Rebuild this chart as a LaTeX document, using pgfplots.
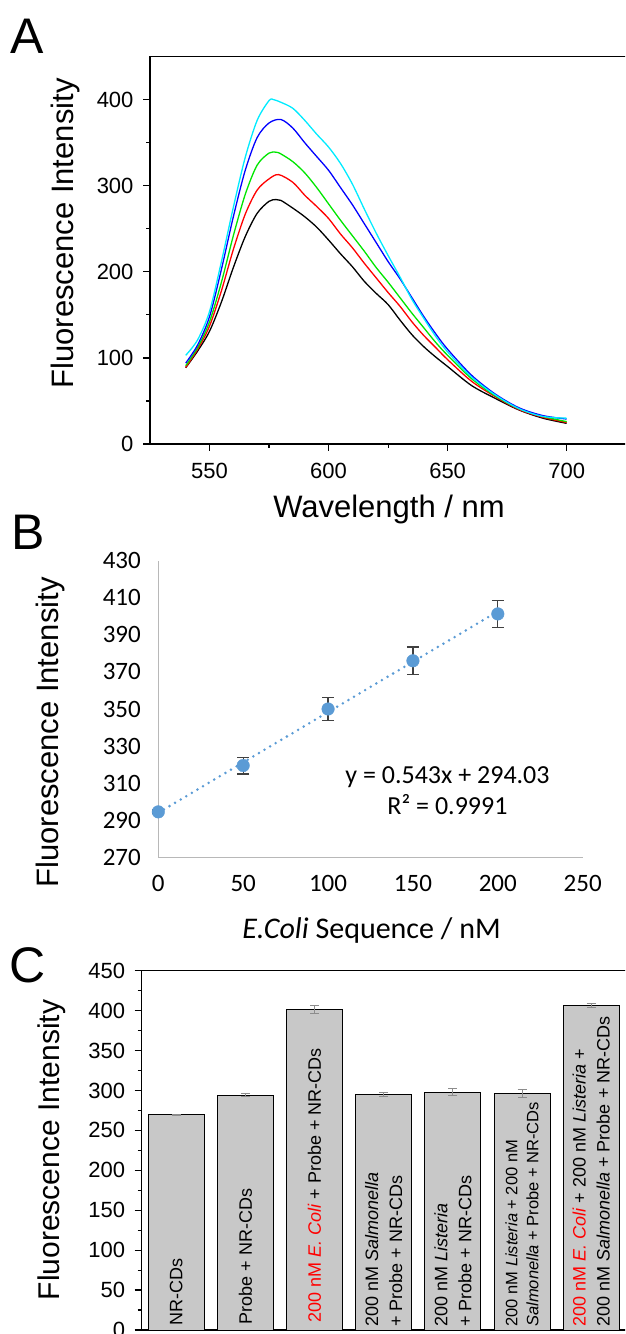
\documentclass[border=0pt]{standalone}
\usepackage{fontspec}
\setmainfont{Liberation Sans}
\newfontfamily\calibri{Carlito}
\usepackage{pgfplots}
\pgfplotsset{compat=1.18}

\definecolor{exblue}{RGB}{91,155,213}
\definecolor{barfill}{RGB}{200,200,200}
\definecolor{ogreen}{RGB}{0,230,0}
\definecolor{ocyan}{RGB}{0,235,255}

\begin{document}
\begin{tikzpicture}[x=1pt,y=1pt]
\useasboundingbox (0,0) rectangle (625,1334);
\clip (0,0) rectangle (625,1334);

% ---------------- A: spectra
\begin{axis}[
  at={(150pt,890pt)}, anchor=south west, scale only axis,
  width=559.3pt, height=387.3pt,
  xmin=525, xmax=760, ymin=0, ymax=450,
  xtick={550,600,650,700}, minor xtick={575,625,675},
  ytick={0,100,200,300,400}, minor ytick={50,150,250,350},
  tick pos=left, tick align=outside,
  major tick length=7pt, minor tick length=4pt,
  tick style={black, line width=1.2pt},
  axis line style={line width=1.3pt},
  ticklabel style={font=\fontsize{22}{26}\selectfont},
  /pgf/number format/assume math mode=true,
  yticklabel style={xshift=-6pt}, xticklabel style={yshift=-9pt},
]
\addplot[black, line width=1.3pt, smooth] coordinates {
 (540,88.6) (545,108) (550,131) (555,165) (560,205) (565,241) (570,268) (575,282)
 (578,284) (580,283) (585,274) (590,264) (595,252) (600,237) (605,221) (610,206)
 (615,189) (620,175) (625,162) (630,144) (635,127) (640,113) (645,101) (650,90)
 (660,68) (670,53) (680,39.5) (690,30) (700,24)
};
\addplot[red, line width=1.3pt, smooth] coordinates {
 (540,89) (545,110) (550,137) (555,178) (560,226) (565,267) (570,295) (575,308)
 (579,313) (585,304) (590,289) (595,276) (600,262) (605,244) (610,228)
 (615,210) (620,193) (625,176) (630,160) (635,142) (640,126) (645,112) (650,98)
 (660,73) (670,55) (680,40) (690,31) (700,25)
};
\addplot[ogreen, line width=1.3pt, smooth] coordinates {
 (540,91) (545,112) (550,142) (555,188) (560,242) (565,290) (570,324) (575,338)
 (578,339) (580,337) (585,328) (590,315) (595,298) (600,279) (605,260) (610,242)
 (615,224) (620,205) (625,188) (630,170) (635,152) (640,135) (645,118) (650,103)
 (660,76) (670,56) (680,41) (690,32) (700,26)
};
\addplot[blue, line width=1.3pt, smooth] coordinates {
 (540,94) (545,115) (550,148) (555,203) (560,264) (565,318) (570,356) (575,373)
 (580,377) (585,367) (590,350) (595,334) (600,318) (605,298) (610,278)
 (615,256) (620,234) (625,212) (630,192) (635,170) (640,148) (645,128) (650,110)
 (660,80) (670,58) (680,42) (690,33) (700,29)
};
\addplot[ocyan, line width=1.3pt, smooth] coordinates {
 (540,103) (545,121) (550,154) (555,212) (560,275) (565,333) (570,376) (575,399)
 (577,400) (580,397) (585,390) (590,376) (595,360) (600,345) (605,326) (610,302)
 (615,273) (620,245) (625,219) (630,194) (635,168) (640,146) (645,125) (650,107)
 (660,78) (670,57) (680,41) (690,32) (700,30)
};
\end{axis}
\node[font=\fontsize{50}{60}\selectfont] at (27,1298) {A};
\node[rotate=90, anchor=base, font=\fontsize{31}{37}\selectfont] at (73.5,1100.5) {Fluorescence Intensity};
\node[anchor=base, font=\fontsize{31}{37}\selectfont] at (389,816) {Wavelength / nm};

% ---------------- B: calibration
\begin{axis}[
  at={(158.3pt,476.7pt)}, anchor=south west, scale only axis,
  width=424.4pt, height=296.6pt,
  xmin=0, xmax=250, ymin=270, ymax=430,
  xtick={0,50,100,150,200,250}, ytick={270,290,310,330,350,370,390,410,430},
  axis x line*=bottom, axis y line*=left,
  axis line style={color=black!28, line width=1.2pt},
  major tick length=0pt,
  ticklabel style={font=\calibri\fontsize{25}{30}\selectfont},
  /pgf/number format/assume math mode=true,
  yticklabel style={xshift=-14pt}, xticklabel style={yshift=-14pt},
  clip=false,
]
\addplot[exblue, line width=2.8pt, line cap=round, dash pattern=on 0pt off 6.5pt]
  coordinates {(0,294.03) (200,402.63)};
\addplot[draw=none, mark=none, forget plot,
  error bars/.cd, y dir=both, y explicit,
  error bar style={black!75, line width=1.3pt},
  error mark options={rotate=90, mark size=6pt, black!75, line width=1.3pt}]
  coordinates {(0,294.5) +- (0,1) (50,319.5) +- (0,4.5) (100,350) +- (0,6.1)
               (150,376) +- (0,7.4) (200,401.3) +- (0,7.4)};
\addplot[only marks, mark=*, mark size=6.3pt, color=exblue]
  coordinates {(0,294.5) (50,319.5) (100,350) (150,376) (200,401.3)};
\end{axis}
\node[font=\fontsize{50}{60}\selectfont] at (28,802) {B};
\node[rotate=90, anchor=base, font=\fontsize{31}{37}\selectfont] at (58,601.5) {Fluorescence Intensity};
\node[anchor=base, font=\calibri\fontsize{30}{36}\selectfont] at (371.5,395) {\textit{E.Coli} Sequence / nM};
\node[anchor=base, font=\calibri\fontsize{26}{31}\selectfont] at (447.5,550) {y = 0.543x + 294.03};
\node[anchor=base, font=\calibri\fontsize{26}{31}\selectfont] at (447.5,519) {R² = 0.9991};

% ---------------- C: selectivity bars
\begin{axis}[
  at={(141.7pt,4pt)}, anchor=south west, scale only axis,
  width=518.6pt, height=359.3pt,
  xmin=0.5, xmax=8, ymin=0, ymax=450,
  xtick=\empty,
  ytick={0,50,...,450}, minor ytick={25,75,...,425},
  ytick pos=left, tick align=outside,
  major tick length=7pt, minor tick length=4pt,
  tick style={black, line width=1.2pt},
  axis line style={line width=1.3pt},
  ticklabel style={font=\fontsize{22}{26}\selectfont},
  /pgf/number format/assume math mode=true,
  yticklabel style={xshift=-6pt},
  ybar, bar width=56pt,
]
\addplot[fill=barfill, draw=black, line width=1pt,
  error bars/.cd, y dir=both, y explicit,
  error bar style={black!45, line width=1pt},
  error mark options={rotate=90, mark size=4.5pt, black!45, line width=1pt}]
  coordinates {(1,269.8) +- (0,0.6) (2,294.3) +- (0,2) (3,401.5) +- (0,4.5)
               (4,295.3) +- (0,2.5) (5,297.8) +- (0,4.3) (6,296) +- (0,4.7)
               (7,406.3) +- (0,2.5)};
\node[rotate=90, anchor=west, align=left, inner sep=0pt, font=\fontsize{18}{24}\selectfont]
  at (axis cs:1,5) {NR-CDs};
\node[rotate=90, anchor=west, align=left, inner sep=0pt, font=\fontsize{18}{24}\selectfont]
  at (axis cs:2,7) {Probe + NR-CDs};
\node[rotate=90, anchor=west, align=left, inner sep=0pt, font=\fontsize{18}{24}\selectfont]
  at (axis cs:3,9) {{\color{red}200 nM \textit{E. Coli}} + Probe + NR-CDs};
\node[rotate=90, anchor=west, align=left, inner sep=0pt, font=\fontsize{18}{24}\selectfont]
  at (axis cs:4,4) {200 nM \textit{Salmonella}\\+ Probe + NR-CDs};
\node[rotate=90, anchor=west, align=left, inner sep=0pt, font=\fontsize{18}{24}\selectfont]
  at (axis cs:5,4) {200 nM \textit{Listeria}\\+ Probe + NR-CDs};
\node[rotate=90, anchor=west, align=left, inner sep=0pt, font=\fontsize{16.5}{21}\selectfont]
  at (axis cs:6,4) {200 nM \textit{Listeria} + 200 nM\\\textit{Salmonella} + Probe + NR-CDs};
\node[rotate=90, anchor=west, align=left, inner sep=0pt, font=\fontsize{18}{24}\selectfont]
  at (axis cs:7,4) {{\color{red}200 nM \textit{E. Coli}} + 200 nM \textit{Listeria} +\\200 nM \textit{Salmonella} + Probe + NR-CDs};
\end{axis}
\node[font=\fontsize{50}{60}\selectfont] at (28,369) {C};
\node[rotate=90, anchor=base, font=\fontsize{30}{36}\selectfont] at (60,184) {Fluorescence Intensity};
\end{tikzpicture}
\end{document}
